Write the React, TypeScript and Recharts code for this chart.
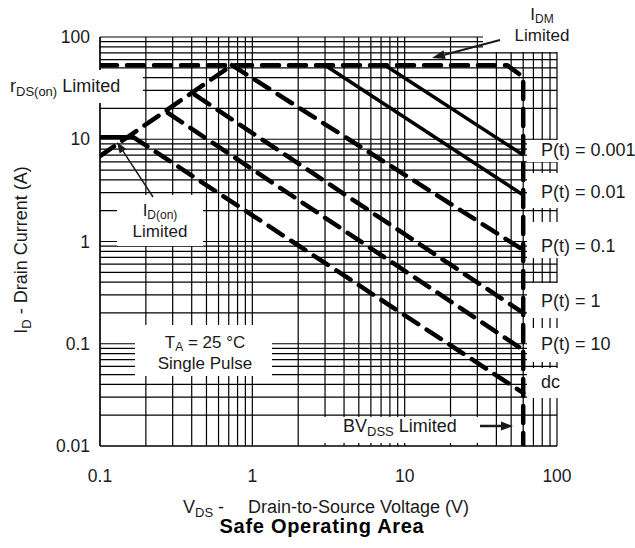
import React from 'react';
import { LineChart, Line, XAxis, YAxis, CartesianGrid } from 'recharts';

const FONT = "'Liberation Sans', Arial, Helvetica, sans-serif";
const INK = '#1a1a1a';

// Grid ticks (log grid, 1..9 per decade)
const xGridTicks = [
  0.1, 0.2, 0.3, 0.4, 0.5, 0.6, 0.7, 0.8, 0.9,
  1, 2, 3, 4, 5, 6, 7, 8, 9,
  10, 20, 30, 40, 50, 60, 70, 80, 90, 100,
];
const yGridTicks = [
  0.01, 0.02, 0.03, 0.04, 0.05, 0.06, 0.07, 0.08, 0.09,
  0.1, 0.2, 0.3, 0.4, 0.5, 0.6, 0.7, 0.8, 0.9,
  1, 2, 3, 4, 5, 6, 7, 8, 9,
  10, 20, 30, 40, 50, 60, 70, 80, 90, 100,
];
const xTickLabels = [0.1, 1, 10, 100];
const yTickLabels = [0.01, 0.1, 1, 10, 100];

// Limit curves (V_DS in V, I_D in A)
const idmBvLimit = [
  { v: 0.1, i: 53 },
  { v: 47, i: 53 },
  { v: 60, i: 40.6 },
  { v: 60, i: 0.01 },
];
const rdsOnLimit = [
  { v: 0.1, i: 6.85 },
  { v: 0.735, i: 53 },
];
const idOnLimit = [
  { v: 0.1, i: 10.5 },
  { v: 0.165, i: 10.5 },
];
const dcLine = [
  { v: 0.165, i: 10.5 },
  { v: 60, i: 0.033 },
];
const p10Line = [
  { v: 0.279, i: 18.1 },
  { v: 60, i: 0.087 },
];
const p1Line = [
  { v: 0.421, i: 27.1 },
  { v: 60, i: 0.2 },
];
const p01Line = [
  { v: 0.735, i: 53 },
  { v: 60, i: 0.826 },
];
const p001Line = [
  { v: 3.0, i: 53 },
  { v: 60, i: 2.85 },
];
const p0001Line = [
  { v: 7.43, i: 53 },
  { v: 60, i: 7.0 },
];

const dashedSeries = [idmBvLimit, rdsOnLimit, dcLine, p10Line, p1Line, p01Line];
const solidSeries = [p001Line, p0001Line];

const renderXTick = (props: any) => {
  const { x, y, payload } = props;
  if (!xTickLabels.includes(payload.value)) return <g />;
  return (
    <text x={x} y={y + 36} textAnchor="middle" fontFamily={FONT} fontSize={17.5} fill={INK}>
      {String(payload.value)}
    </text>
  );
};

const renderYTick = (props: any) => {
  const { x, y, payload } = props;
  if (!yTickLabels.includes(payload.value)) return <g />;
  return (
    <text x={x - 10} y={y + 6} textAnchor="end" fontFamily={FONT} fontSize={17.5} fill={INK}>
      {String(payload.value)}
    </text>
  );
};

const Arrow = ({ x1, y1, x2, y2, w = 2, head = 12, half = 4 }: any) => {
  const ang = Math.atan2(y2 - y1, x2 - x1);
  const bx = x2 - head * Math.cos(ang);
  const by = y2 - head * Math.sin(ang);
  const px = -Math.sin(ang) * half;
  const py = Math.cos(ang) * half;
  return (
    <g>
      <line x1={x1} y1={y1} x2={bx} y2={by} stroke={INK} strokeWidth={w} />
      <polygon points={`${x2},${y2} ${bx + px},${by + py} ${bx - px},${by - py}`} fill={INK} />
    </g>
  );
};

const SUB = 13;
const LBL = 17;
const LSUB = 12;

export default function App() {
  return (
    <div style={{ position: 'absolute', left: 0, top: 0, width: 635, height: 548, background: '#fff' }}>
      <LineChart width={635} height={548} margin={{ top: 37, right: 78, bottom: 72, left: 40 }}>
        <CartesianGrid stroke="#000" strokeWidth={1.2} />
        <XAxis
          dataKey="v"
          type="number"
          scale="log"
          domain={[0.1, 100]}
          ticks={xGridTicks}
          interval={0}
          allowDataOverflow
          tickLine={false}
          tickSize={0}
          tickMargin={0}
          axisLine={{ stroke: '#000', strokeWidth: 1.2 }}
          height={30}
          tick={renderXTick}
        />
        <YAxis
          dataKey="i"
          type="number"
          scale="log"
          domain={[0.01, 100]}
          ticks={yGridTicks}
          interval={0}
          allowDataOverflow
          tickLine={false}
          tickSize={0}
          tickMargin={0}
          axisLine={{ stroke: '#000', strokeWidth: 1.2 }}
          width={60}
          tick={renderYTick}
        />
        {dashedSeries.map((d, k) => (
          <Line
            key={'d' + k}
            data={d}
            dataKey="i"
            type="linear"
            stroke="#000"
            strokeWidth={4.5}
            strokeDasharray="17 10"
            strokeLinecap="round"
            dot={false}
            activeDot={false}
            isAnimationActive={false}
          />
        ))}
        {solidSeries.map((d, k) => (
          <Line
            key={'s' + k}
            data={d}
            dataKey="i"
            type="linear"
            stroke="#000"
            strokeWidth={3.5}
            dot={false}
            activeDot={false}
            isAnimationActive={false}
          />
        ))}
        <Line
          data={idOnLimit}
          dataKey="i"
          type="linear"
          stroke="#000"
          strokeWidth={4}
          dot={false}
          activeDot={false}
          isAnimationActive={false}
        />
      </LineChart>
      <svg
        width={635}
        height={548}
        style={{ position: 'absolute', left: 0, top: 0, pointerEvents: 'none', whiteSpace: 'pre' }}
        fontFamily={FONT}
        fill={INK}
      >
        {/* label backgrounds */}
        <rect x={0} y={70} width={143} height={33} fill="#fff" />
        <rect x={483} y={0} width={152} height={52} fill="#fff" />
        <rect x={117} y={195} width={86} height={51} fill="#fff" />
        <rect x={135} y={325} width={137} height={51} fill="#fff" />
        <rect x={323} y={417} width={157} height={26} fill="#fff" />
        <rect x={527} y={140} width={108} height={22} fill="#fff" />
        <rect x={527} y={173} width={108} height={35} fill="#fff" />
        <rect x={527} y={222} width={108} height={36} fill="#fff" />
        <rect x={527} y={283} width={108} height={35} fill="#fff" />
        <rect x={527} y={328} width={108} height={34} fill="#fff" />
        <rect x={527} y={368} width={108} height={30} fill="#fff" />

        {/* annotations */}
        <text x={10} y={92} fontSize={18}>
          r<tspan fontSize={SUB} dy={4}>DS(on)</tspan>
          <tspan dy={-4}> Limited</tspan>
        </text>

        <text x={542} y={20} fontSize={LBL} textAnchor="middle">
          I<tspan fontSize={LSUB} dy={2.5}>DM</tspan>
        </text>
        <text x={542} y={41} fontSize={LBL} textAnchor="middle">Limited</text>
        <Arrow x1={500} y1={40} x2={432} y2={58} w={2} head={13} half={4.5} />

        <text x={160} y={216} fontSize={LBL} textAnchor="middle">
          I<tspan fontSize={LSUB} dy={2.5}>D(on)</tspan>
        </text>
        <text x={160} y={237} fontSize={LBL} textAnchor="middle">Limited</text>
        <Arrow x1={153} y1={197} x2={117} y2={142} w={1.5} head={11} half={4} />

        <text x={205} y={348} fontSize={LBL} textAnchor="middle">
          T<tspan fontSize={LSUB} dy={2.5}>A</tspan>
          <tspan dy={-2.5}> = 25 °C</tspan>
        </text>
        <text x={205} y={369} fontSize={LBL} textAnchor="middle">Single Pulse</text>

        <text x={343} y={432} fontSize={18}>
          BV<tspan fontSize={SUB} dy={4}>DSS</tspan>
          <tspan dy={-4}> Limited</tspan>
        </text>
        <Arrow x1={480} y1={426} x2={513} y2={426} w={2.5} head={12} half={4.5} />

        <text x={541} y={156} fontSize={18}>P(t) = 0.001</text>
        <text x={541} y={198} fontSize={18}>P(t) = 0.01</text>
        <text x={541} y={252} fontSize={18}>P(t) = 0.1</text>
        <text x={541} y={307} fontSize={18}>P(t) = 1</text>
        <text x={541} y={350} fontSize={18}>P(t) = 10</text>
        <text x={541} y={388} fontSize={18}>dc</text>

        {/* axis titles */}
        <text x={27} y={250} fontSize={18} textAnchor="middle" transform="rotate(-90 27 250)">
          I<tspan fontSize={SUB} dy={4}>D</tspan>
          <tspan dy={-4}>{' -  Drain Current (A)'}</tspan>
        </text>
        <text x={183} y={513} fontSize={18}>
          V<tspan fontSize={SUB} dy={4}>DS</tspan>
          <tspan dy={-4}>{' -'}</tspan>
        </text>
        <text x={248} y={513} fontSize={18}>Drain-to-Source Voltage (V)</text>
        <text
          x={322}
          y={533}
          fontSize={20}
          fontWeight="bold"
          letterSpacing={0.7}
          textAnchor="middle"
          fill="#000"
        >
          Safe Operating Area
        </text>
      </svg>
    </div>
  );
}
